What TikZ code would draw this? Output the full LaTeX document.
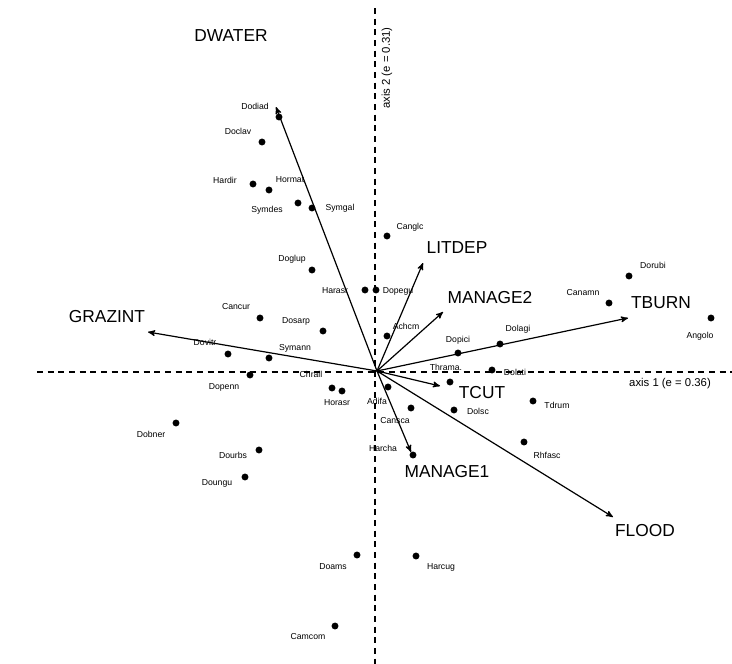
\documentclass[tikz,border=0pt]{standalone}
\usepackage{fontspec}
\setmainfont{Liberation Sans}
\usepackage{tikz}
\usetikzlibrary{arrows, positioning}

\begin{document}
\begin{tikzpicture}[x=0.75pt, y=-0.75pt]

        % Define styles
        \tikzstyle{spot} = [circle, fill=black, inner sep=0pt, minimum size=5.2pt]
        \tikzstyle{spname} = [inner sep=0pt, font=\fontsize{6.5}{7}\selectfont]
        \tikzstyle{varname} = [inner sep=0pt, font=\fontsize{13}{15}\selectfont]
        \tikzstyle{axname} = [inner sep=0pt, font=\fontsize{8.5}{10}\selectfont]
        \tikzstyle{axis} = [draw, line width=0.9pt, dash pattern=on 4.5pt off 3.5pt]
        \tikzstyle{line} = [draw, line width=0.9pt, ->, >=stealth']

        \useasboundingbox (0,0) rectangle (732,664);

        % Axes
        \coordinate (west) at (37,372);
        \coordinate (east) at (732,372);
        \coordinate (north) at (375,8);
        \coordinate (south) at (375,664);
        \coordinate (origin) at (377,371);
        \path [axis] (west) -- (east);
        \path [axis] (north) -- (south);
        \node [axname] (ax1) at (670,384) {axis 1 (e = 0.36)};
        \node [axname, rotate=90] (ax2) at (387,68) {axis 2 (e = 0.31)};

        % Variable tips
        \coordinate (dwatertip) at (276,107);
        \coordinate (grazinttip) at (148,332);
        \coordinate (litdeptip) at (423,263);
        \coordinate (manage2tip) at (443,312);
        \coordinate (tburntip) at (628,318);
        \coordinate (tcuttip) at (440,386);
        \coordinate (manage1tip) at (411,452);
        \coordinate (floodtip) at (613,517);

        % Variable names
        \node [varname] (dwater) at (231,36) {DWATER};
        \node [varname] (grazint) at (107,317) {GRAZINT};
        \node [varname] (litdep) at (457,248) {LITDEP};
        \node [varname] (manage2) at (490,298) {MANAGE2};
        \node [varname] (tburn) at (661,303) {TBURN};
        \node [varname] (tcut) at (482,393) {TCUT};
        \node [varname] (manage1) at (447,472) {MANAGE1};
        \node [varname] (flood) at (645,531) {FLOOD};

        % Draw arrows
        \path [line] (origin) -- (dwatertip);
        \path [line] (origin) -- (grazinttip);
        \path [line] (origin) -- (litdeptip);
        \path [line] (origin) -- (manage2tip);
        \path [line] (origin) -- (tburntip);
        \path [line] (origin) -- (tcuttip);
        \path [line] (origin) -- (manage1tip);
        \path [line] (origin) -- (floodtip);

        % Species, upper left
        \node [spot] (dodiad) at (279,117) {};
        \node [spname] (dodiadlab) at (255,106) {Dodiad};
        \node [spot] (doclav) at (262,142) {};
        \node [spname] (doclavlab) at (238,131) {Doclav};
        \node [spot] (hardir) at (253,184) {};
        \node [spname] (hardirlab) at (225,180) {Hardir};
        \node [spot] (hormat) at (269,190) {};
        \node [spname] (hormatlab) at (290,180) {Hormat};
        \node [spot] (symdes) at (298,203) {};
        \node [spname] (symdeslab) at (267,210) {Symdes};
        \node [spot] (symgal) at (312,208) {};
        \node [spname] (symgallab) at (340,208) {Symgal};
        \node [spot] (doglup) at (312,270) {};
        \node [spname] (dogluplab) at (292,259) {Doglup};
        \node [spot] (harasr) at (365,290) {};
        \node [spname] (harasrlab) at (335,291) {Harasr};
        \node [spot] (dopegu) at (376,290) {};
        \node [spname] (dopegulab) at (398,291) {Dopegu};
        \node [spot] (cancur) at (260,318) {};
        \node [spname] (cancurlab) at (236,307) {Cancur};
        \node [spot] (dosarp) at (323,331) {};
        \node [spname] (dosarplab) at (296,321) {Dosarp};
        \node [spot] (dovitr) at (228,354) {};
        \node [spname] (dovitrlab) at (205,342) {Dovitr};
        \node [spot] (symann) at (269,358) {};
        \node [spname] (symannlab) at (295,348) {Symann};

        % Species, upper right
        \node [spot] (canglc) at (387,236) {};
        \node [spname] (canglclab) at (410,227) {Canglc};
        \node [spot] (achcm) at (387,336) {};
        \node [spname] (achcmlab) at (406,326) {Achcm};
        \node [spot] (dopici) at (458,353) {};
        \node [spname] (dopicilab) at (458,340) {Dopici};
        \node [spot] (dolagi) at (500,344) {};
        \node [spname] (dolagilab) at (518,329) {Dolagi};
        \node [spname] (thramalab) at (446,367) {Thrama.};
        \node [spot] (dolati) at (492,370) {};
        \node [spname] (dolatilab) at (515,372) {Dolati};
        \node [spot] (dorubi) at (629,276) {};
        \node [spname] (dorubilab) at (653,265) {Dorubi};
        \node [spot] (canamn) at (609,303) {};
        \node [spname] (canamnlab) at (583,293) {Canamn};
        \node [spot] (angolo) at (711,318) {};
        \node [spname] (angololab) at (700,336) {Angolo};

        % Species, lower left
        \node [spname] (chraillab) at (311,374) {Chrail};
        \node [spot] (dopenn) at (250,375) {};
        \node [spname] (dopennlab) at (224,387) {Dopenn};
        \node [spot] (horasra) at (332,388) {};
        \node [spot] (horasrb) at (342,391) {};
        \node [spname] (horasrlab) at (337,403) {Horasr};
        \node [spot] (dobner) at (176,423) {};
        \node [spname] (dobnerlab) at (151,434) {Dobner};
        \node [spot] (dourbs) at (259,450) {};
        \node [spname] (dourbslab) at (233,455) {Dourbs};
        \node [spot] (doungu) at (245,477) {};
        \node [spname] (doungulab) at (217,483) {Doungu};
        \node [spot] (doams) at (357,555) {};
        \node [spname] (doamslab) at (333,567) {Doams};
        \node [spot] (camcom) at (335,626) {};
        \node [spname] (camcomlab) at (308,637) {Camcom};

        % Species, lower right
        \node [spot] (adifa) at (388,387) {};
        \node [spname] (adifalab) at (377,401) {Adifa};
        \node [spot] (tcutspot) at (450,382) {};
        \node [spot] (cansca) at (411,408) {};
        \node [spname] (canscalab) at (395,421) {Cansca};
        \node [spot] (harcha) at (413,455) {};
        \node [spname] (harchalab) at (383,448) {Harcha};
        \node [spot] (dolsc) at (454,410) {};
        \node [spname] (dolsclab) at (478,411) {Dolsc};
        \node [spot] (tdrum) at (533,401) {};
        \node [spname] (tdrumlab) at (557,405) {Tdrum};
        \node [spot] (rhfasc) at (524,442) {};
        \node [spname] (rhfasclab) at (547,455) {Rhfasc};
        \node [spot] (harcug) at (416,556) {};
        \node [spname] (harcuglab) at (441,567) {Harcug};

    \end{tikzpicture}
\end{document}
